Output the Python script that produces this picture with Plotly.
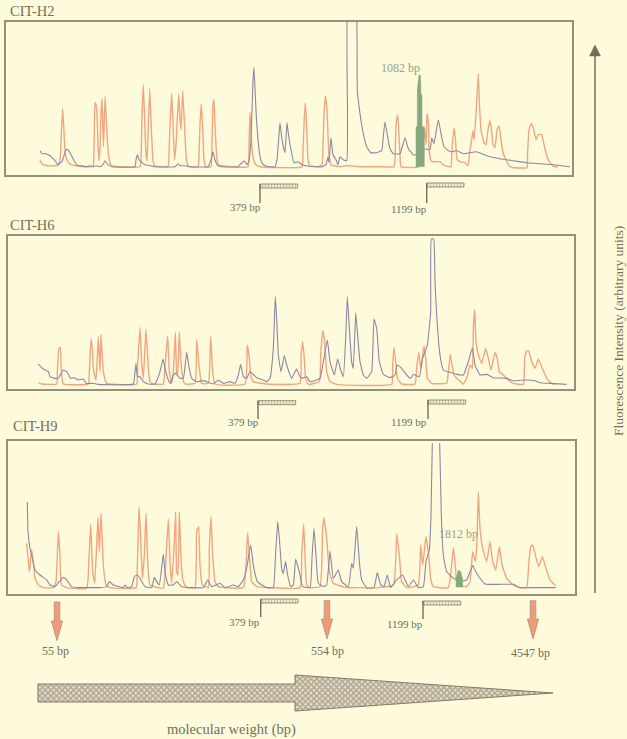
import plotly.graph_objects as go

# ---------- read-off data: (position, fluorescence intensity) ----------
h2_orange = [(40,15),(41,12),(43,10),(48,9),(55,9),(59,10),(60.5,20),(61.5,45),(62.7,66),(64,42),(65,25),(66,17),(68,13),(71,10),(76,9),(85,8),(93,8.5),(94,25),(95,72),(96,70),(97,60),(98,30),(99,14),(100,26),(101,60),(102,76),(103.5,28),(105,78),(106.5,50),(108,25),(110,12),(112,9),(120,8),(140,8),(141,15),(142,60),(143.3,90),(144.5,60),(146,20),(147,14),(148,40),(149.7,86),(151,55),(153,14),(155,9),(168,8),(169,20),(170,50),(171.7,81),(173,50),(174.5,15),(176,30),(178.7,81),(180,55),(181,45),(182.7,84),(184.5,50),(186,20),(187,12),(189,8),(198,8),(199,20),(200,50),(201.3,71),(203,40),(204,15),(206,8),(211,8),(212,30),(213,70),(214,75),(215,50),(216,30),(217,15),(219,10),(230,8),(248,8),(249,30),(250,62),(251,45),(252,25),(254,14),(256,10),(260,8),(302,8),(303,25),(304.5,60),(305.5,72),(307,40),(308,15),(310,9),(318,8),(322,10),(323,30),(324,60),(325.3,79),(327,65),(328,40),(329,20),(331,10),(340,8),(345,9),(350,9),(360,8),(380,8),(394,8),(395,14),(396,50),(397.7,60),(399,40),(400,20),(401,8),(419,8),(423,30),(424.5,46),(426,30),(427,61),(428.5,50),(429,25),(431,14),(433,13),(440,13),(443,10),(449,8),(451,8),(452,25),(454,47),(455.5,35),(457,15),(460,13),(465,12),(468,9),(470,25),(471.5,34),(473,44),(474,35),(476,60),(478.3,101),(479.5,70),(481,45),(484,32),(486,30),(488,45),(490,54),(491.5,45),(493,30),(495,27),(497,45),(499,49),(501,35),(503,22),(506,15),(510,8),(515,7),(527,7),(527.5,20),(529,45),(531,51),(533,48),(536,35),(538,40),(541.7,40),(544,30),(547,18),(550,12),(554,8),(558,8)]
h2_blue = [(40,24),(42,21),(46,21),(50,19),(55,14),(58,10),(60,12),(62,13),(66,25),(68,25),(71,20),(74,14),(78,9),(82,9),(86,8),(90,9),(93,8),(96,9),(100,8),(103,10),(105,14),(108,10),(112,8),(135,8),(136,15),(137.5,20),(139,15),(141,13),(145,10),(150,9),(155,8),(175,8),(178,11),(180,9),(185,9),(190,8),(208,8),(211,15),(213,23),(215,15),(218,9),(222,8),(238,8),(241,11),(244,14),(247,10),(249,14),(251,35),(253,95),(254,107),(255.5,75),(256.5,55),(258,35),(260,18),(262,12),(265,9),(270,8),(275,8),(277,15),(279,40),(280,52),(282,35),(285,22),(287,52),(288.5,40),(291,25),(294,12),(298,13),(302,10),(306,9),(315,8),(322,8),(326,10),(328,18),(329,12),(331,37),(333,20),(336,15),(338,10),(340,18),(343,15),(346.7,14),(347.5,60),(348.3,175),(355.5,175),(357.3,85),(360,61),(363.3,41),(366.7,28),(370.7,22),(376.7,22),(381.7,24),(383.3,38),(385,53),(387.3,40),(390,26),(393.3,21),(400,21),(405,37),(408.3,26),(413.3,20),(416,20),(425,26),(430,25),(431.7,37),(434,31),(438.3,55),(441,41),(444,28),(450,23),(456.7,24),(463.3,21),(476.7,23),(486.7,19),(500,16),(513.3,14),(526.7,12),(540,11),(553.3,10),(570,8)]
h2_green = [(416,8),(416,48),(417.3,48),(417.3,85),(419,100),(420.5,99),(421,80),(422,80),(422,48),(424.3,48),(424.3,8)]

h6_orange = [(115,19),(125,15),(170,15),(172,52),(177,124),(181,124),(183,77),(186,32),(190,15),(265,15),(268,52),(273,150),(277,122),(280,60),(288,27),(295,157),(300,52),(303,164),(310,52),(320,17),(410,15),(413,72),(420,185),(425,82),(430,32),(438,179),(445,62),(450,22),(460,15),(490,15),(495,72),(503,160),(508,52),(515,17),(520,52),(526,169),(530,47),(533,42),(538,170),(543,82),(548,32),(555,15),(585,17),(590,147),(597,72),(605,17),(625,17),(632,157),(638,52),(645,15),(735,15),(742,132),(748,92),(752,42),(760,22),(800,15),(900,17),(903,92),(908,142),(912,102),(917,32),(925,14),(958,22),(962,102),(968,175),(973,152),(980,52),(990,22),(1010,14),(1175,14),(1178,72),(1182,125),(1187,82),(1192,32),(1205,15),(1245,15),(1250,62),(1256,110),(1262,62),(1267,92),(1272,130),(1278,82),(1282,32),(1295,17),(1340,17),(1344,42),(1351,104),(1356,72),(1362,42),(1370,32),(1380,24),(1390,15),(1400,32),(1410,72),(1417,62),(1420,182),(1424,237),(1428,142),(1435,102),(1445,77),(1457,122),(1465,92),(1473,57),(1485,110),(1492,92),(1498,52),(1510,42),(1525,27),(1540,17),(1570,14),(1574,92),(1580,114),(1586,114),(1595,82),(1605,62),(1615,90),(1625,67),(1640,32),(1655,17),(1665,14)]
h6_blue = [(115,75),(130,60),(145,52),(150,37),(165,32),(175,32),(190,57),(200,52),(212,32),(222,34),(235,27),(250,30),(258,17),(280,17),(295,14),(400,15),(404,42),(408,77),(412,37),(420,37),(430,22),(445,15),(465,15),(480,52),(489,90),(495,62),(505,27),(512,17),(520,42),(527,47),(540,32),(550,32),(560,110),(566,72),(575,32),(590,22),(610,25),(640,15),(655,27),(670,17),(690,22),(705,17),(715,42),(722,74),(730,37),(740,32),(750,52),(770,34),(790,27),(800,22),(810,32),(820,122),(826,277),(830,212),(835,102),(843,52),(853,100),(860,72),(875,32),(885,52),(890,60),(897,42),(905,32),(920,37),(930,22),(950,27),(960,32),(970,82),(982,147),(990,82),(1003,42),(1013,90),(1022,57),(1030,37),(1037,152),(1042,277),(1048,182),(1055,82),(1060,62),(1067,229),(1072,172),(1080,82),(1090,42),(1100,32),(1115,52),(1122,210),(1130,182),(1138,82),(1150,44),(1170,34),(1185,42),(1192,72),(1205,62),(1220,42),(1232,32),(1240,44),(1258,37),(1268,92),(1282,132),(1292,232),(1294,450),(1301,450),(1305,322),(1310,222),(1320,102),(1330,57),(1350,50),(1370,44),(1390,42),(1405,82),(1417,124),(1425,72),(1440,42),(1460,44),(1480,34),(1520,32),(1540,25),(1580,27),(1605,25),(1620,19),(1650,17),(1700,14)]

h9_orange = [(80,153),(85,98),(88,68),(95,133),(100,98),(105,48),(115,28),(130,20),(160,20),(168,38),(175,188),(180,118),(184,28),(200,20),(260,18),(267,108),(272,210),(278,68),(284,33),(290,148),(294,230),(298,128),(303,243),(310,88),(318,28),(330,20),(408,20),(412,88),(417,263),(421,193),(427,48),(433,118),(438,243),(443,98),(450,28),(490,18),(495,58),(505,226),(510,98),(515,33),(522,138),(527,248),(530,68),(534,58),(538,248),(544,88),(550,38),(560,20),(585,20),(590,188),(596,203),(600,88),(607,28),(625,20),(628,138),(633,233),(638,118),(645,38),(655,23),(730,20),(738,88),(743,185),(748,118),(755,38),(770,23),(810,20),(900,20),(905,118),(911,210),(915,118),(920,28),(928,20),(960,23),(968,198),(972,230),(980,168),(988,68),(1000,33),(1040,20),(1090,20),(1100,18),(1180,28),(1190,180),(1198,118),(1205,38),(1220,20),(1255,28),(1262,148),(1268,88),(1278,173),(1286,118),(1292,48),(1300,23),(1345,20),(1353,68),(1360,140),(1366,88),(1372,28),(1400,23),(1410,38),(1418,128),(1426,98),(1430,138),(1435,306),(1440,198),(1448,138),(1460,98),(1470,158),(1478,98),(1487,73),(1498,143),(1506,88),(1520,48),(1540,28),(1560,20),(1580,20),(1586,88),(1592,143),(1598,148),(1606,118),(1616,83),(1627,113),(1635,88),(1650,43),(1667,26)]
h9_blue = [(82,276),(84,188),(90,138),(97,108),(105,73),(120,58),(140,43),(150,28),(165,23),(178,38),(190,51),(200,43),(215,23),(235,20),(270,20),(300,20),(320,23),(328,38),(340,28),(370,20),(375,28),(382,20),(395,23),(403,53),(412,58),(420,48),(435,23),(455,20),(463,51),(470,38),(478,28),(490,120),(495,68),(505,28),(520,28),(530,38),(545,23),(580,20),(610,20),(623,43),(635,23),(660,33),(675,20),(700,28),(715,23),(730,43),(740,78),(752,148),(760,88),(772,38),(800,20),(820,20),(826,108),(833,218),(838,168),(845,78),(850,63),(857,98),(862,63),(872,23),(880,28),(887,106),(895,78),(900,58),(908,23),(930,20),(936,108),(942,198),(948,118),(955,33),(970,23),(980,28),(990,130),(1000,48),(1015,73),(1025,38),(1045,23),(1055,93),(1060,78),(1070,203),(1078,98),(1085,43),(1100,20),(1122,20),(1132,65),(1142,28),(1152,23),(1162,58),(1172,20),(1190,43),(1208,58),(1225,23),(1240,43),(1255,20),(1270,23),(1278,98),(1288,133),(1293,238),(1297,453),(None,None),(1319,453),(1324,238),(1330,118),(1340,68),(1360,48),(1380,40),(1400,43),(1418,86),(1430,63),(1455,31),(1500,30),(1540,30),(1560,20),(1600,20),(1667,20)]
h9_green = [(1368,21),(1368,50),(1372,60),(1375,73),(1382,68),(1386,55),(1388,45),(1388,21)]

panel_names = ["CIT-H2", "CIT-H6", "CIT-H9"]
marker_labels = ["379 bp", "1199 bp"]
ladder_labels = ["55 bp", "554 bp", "4547 bp"]
highlight_labels = ["1082 bp", "1812 bp"]
y_title = "Fluorescence Intensity (arbitrary units)"
x_title = "molecular weight (bp)"

# ---------- styling and layout (page pixels) ----------
W, H = 627, 739
BG = "#FEFBDC"
FRAME = "#979078"
TEXT = "#736E58"
ORANGE = "#F2A57F"
BLUE = "#8B87A2"
GREEN = "#86A87C"
LABEL_GREEN = "#97A28A"
FONT = "Liberation Serif"

panels = [  # left, right, top, bottom, x-range, y-top
    (5.5, 572, 21.7, 174.7, (5.5, 572), 153),
    (7.5, 574, 235.7, 389, (22.5, 1722), 460),
    (8, 575, 441, 594.3, (24, 1725), 460),
]

def xy(pairs):
    return [p[0] for p in pairs], [p[1] for p in pairs]

fig = go.Figure()
layout = {}
series = [(h2_blue, h2_orange, h2_green), (h6_blue, h6_orange, None), (h9_blue, h9_orange, h9_green)]
for i, ((l, r, t, b, xr, ytop), (bl, orr, gr)) in enumerate(zip(panels, series), start=1):
    sfx = "" if i == 1 else str(i)
    common = dict(showgrid=False, zeroline=False, showticklabels=False, ticks="",
                  showline=True, mirror=True, linecolor=FRAME, linewidth=2)
    layout[f"xaxis{sfx}"] = dict(domain=[l / W, r / W], range=list(xr), anchor=f"y{sfx}", **common)
    layout[f"yaxis{sfx}"] = dict(domain=[1 - b / H, 1 - t / H], range=[0, ytop], anchor=f"x{sfx}", **common)
    for pairs, color, width in ((orr, ORANGE, 1.4), (bl, BLUE, 1.1)):
        xs, ys = xy(pairs)
        fig.add_trace(go.Scatter(x=xs, y=ys, mode="lines",
                                 line=dict(color=color, width=width, shape="spline", smoothing=0.35),
                                 xaxis=f"x{sfx}", yaxis=f"y{sfx}", showlegend=False, hoverinfo="skip"))
    if gr:
        xs, ys = xy(gr)
        fig.add_trace(go.Scatter(x=xs, y=ys, mode="lines", fill="toself", fillcolor=GREEN,
                                 line=dict(color=GREEN, width=0.5),
                                 xaxis=f"x{sfx}", yaxis=f"y{sfx}", showlegend=False, hoverinfo="skip"))

# overlay axis in page pixels for the figure's annotations
hidden = dict(showgrid=False, zeroline=False, showticklabels=False, ticks="", showline=False)
layout["xaxis4"] = dict(domain=[0, 1], range=[0, W], anchor="y4", **hidden)
layout["yaxis4"] = dict(domain=[0, 1], range=[H, 0], anchor="x4", **hidden)

def poly(xs, ys, **kw):
    fig.add_trace(go.Scatter(x=xs, y=ys, mode="lines", xaxis="x4", yaxis="y4",
                             showlegend=False, hoverinfo="skip", **kw))

# 379 / 1199 bp bracket markers: bar left, bar right, bar top, foot y
brackets = [(260, 297.7, 184, 203), (426.7, 464, 183, 203),
            (258, 295.7, 400.7, 419), (428, 465.7, 400, 419),
            (260.7, 298, 599, 617), (423, 460.7, 601, 619)]
for x0, x1, y0, yf in brackets:
    poly([x0, x1, x1, x0, x0], [y0, y0, y0 + 4, y0 + 4, y0], fill="toself",
         fillcolor="#EFE8C8", fillpattern=dict(shape="|", size=3, solidity=0.4, fgcolor=FRAME, bgcolor="#F5EFD2"),
         line=dict(color=FRAME, width=1))
    poly([x0, x0], [y0, yf], line=dict(color=TEXT, width=1.4))

# salmon ladder arrows: centre, top, head start, tip
for cx, y0, y1, y2 in [(57, 602, 621, 640.7), (327, 600.7, 619, 639), (533, 600.7, 619, 639)]:
    poly([cx - 2.8, cx + 2.8, cx + 2.8, cx + 5.6, cx, cx - 5.6, cx - 2.8, cx - 2.8],
         [y0, y0, y1, y1, y2, y1, y1, y0], fill="toself", fillcolor="#F09A78",
         line=dict(color="#A8977A", width=0.8))

# molecular weight arrow
poly([38, 295, 295, 553, 295, 295, 38, 38], [684, 684, 675, 693, 711, 702, 702, 684],
     fill="toself", fillcolor="#A89888",
     fillpattern=dict(shape="x", size=4, solidity=0.7, fgcolor="#7A6E60", bgcolor="#EFE6CE"),
     line=dict(color="#85796A", width=1))

# intensity axis arrow
poly([595, 595], [593, 55], line=dict(color=TEXT, width=1.5))
poly([589.5, 595, 600.5, 589.5], [56, 45, 56, 56], fill="toself", fillcolor=TEXT, line=dict(color=TEXT, width=0.5))

def note(text, x, y, size, color=TEXT, anchor="center", angle=0):
    return dict(text=text, x=x, y=y, xref="x4", yref="y4", xanchor=anchor, yanchor="middle",
                showarrow=False, textangle=angle, font=dict(family=FONT, size=size, color=color))

annotations = [
    note(panel_names[0], 8, 11, 14.5, anchor="left"),
    note(panel_names[1], 8, 225, 14.5, anchor="left"),
    note(panel_names[2], 11, 426, 14.5, anchor="left"),
    note(marker_labels[0], 245, 207, 11),
    note(marker_labels[1], 408.5, 209, 11),
    note(marker_labels[0], 243, 422, 11),
    note(marker_labels[1], 409, 422, 11),
    note(marker_labels[0], 244, 622, 11),
    note(marker_labels[1], 405, 624, 11),
    note(ladder_labels[0], 55, 651, 12),
    note(ladder_labels[1], 327, 651, 12),
    note(ladder_labels[2], 530, 652.7, 12),
    note(highlight_labels[0], 400, 68, 12, color=LABEL_GREEN),
    note(highlight_labels[1], 458, 534, 12, color=LABEL_GREEN),
    note(x_title, 231, 729, 14.5),
    note(y_title, 618, 331, 13.5, angle=-90),
]

fig.update_layout(width=W, height=H, autosize=False, margin=dict(l=0, r=0, t=0, b=0),
                  paper_bgcolor=BG, plot_bgcolor="rgba(0,0,0,0)", showlegend=False,
                  annotations=annotations, **layout)
fig.write_html("out.html", config=dict(displayModeBar=False),
               post_script="document.body.style.margin='0';document.body.style.background='#FEFBDC';")
